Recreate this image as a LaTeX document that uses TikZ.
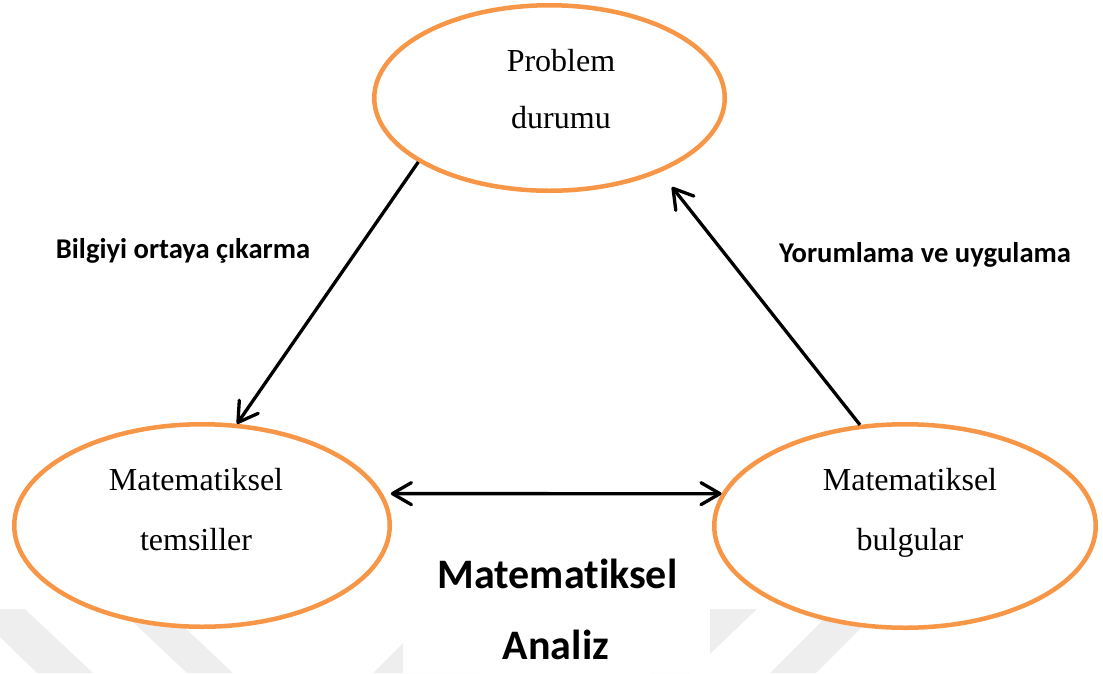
\documentclass[tikz,border=0pt]{standalone}
\usepackage{fontspec}
\setmainfont{Liberation Serif}
\newfontfamily\calib[Ligatures=NoCommon]{Carlito}
\usetikzlibrary{arrows.meta,shapes.geometric}
\definecolor{orng}{HTML}{F79646}
\definecolor{wmark}{HTML}{EEEEEE}
\tikzset{
  oval/.style={ellipse, draw=orng, line width=4.5pt, fill=white, inner sep=0pt},
  etext/.style={font=\fontsize{32}{38}\selectfont, inner sep=0pt, anchor=base},
  lbl/.style={font=\calib\bfseries\fontsize{28.6}{34}\selectfont, inner sep=0pt, anchor=base},
  bigtext/.style={font=\calib\bfseries\fontsize{42}{50}\selectfont, inner sep=0pt, anchor=base},
  conn/.style={line width=3.3pt, -{Straight Barb[length=19pt,width=23pt,round]}},
  conntwo/.style={line width=3.3pt, {Straight Barb[length=19pt,width=22pt,round]}-{Straight Barb[length=19pt,width=22pt,round]}}
}
\begin{document}
\begin{tikzpicture}[x=1pt,y=-1pt]
\useasboundingbox (0,0) rectangle (1103,673);
% faint watermark bands
\fill[wmark] (0,609) -- (25,609) -- (93,673) -- (37,673) -- (0,637) -- cycle;
\fill[wmark] (119,609) -- (165,609) -- (233,673) -- (187,673) -- cycle;
\fill[wmark] (373,673) -- (437,609) -- (480,609) -- (480,673) -- cycle;
\fill[wmark] (650,609) -- (757,609) -- (690,673) -- (650,673) -- cycle;
\fill[wmark] (834,609) -- (880,609) -- (816,673) -- (770,673) -- cycle;
\fill[white] (403,545) rectangle (710,673);
% ellipses
\node[oval, minimum width=350.5, minimum height=185.5] (top) at (549.5,98) {};
\node[oval, minimum width=375.5, minimum height=202.5] (left) at (202,525.5) {};
\node[oval, minimum width=381.5, minimum height=203.5] (right) at (905,526) {};
% ellipse texts
\node[etext] (t1) at (561,71) {Problem};
\node[etext] (t2) at (561,128) {durumu};
\node[etext] (l1) at (196,490) {Matematiksel};
\node[etext] (l2) at (196,550) {temsiller};
\node[etext] (r1) at (910,490) {Matematiksel};
\node[etext] (r2) at (910,550) {bulgular};
% labels
\node[lbl] (la) at (183,258) {Bilgiyi ortaya çıkarma};
\node[lbl] (lb) at (925,262) {Yorumlama ve uygulama};
\node[bigtext] (ma) at (557.5,588) {Matematiksel};
\node[bigtext] (mb) at (556,659) {Analiz};
% connectors
\coordinate (tipA) at (672,187);
\draw[conn] (top.206) -- (left.71);
\draw[conn] (right.114) -- (tipA);
\draw[conntwo, shorten <=8pt] (left.10) -- (right.170);
\end{tikzpicture}
\end{document}
